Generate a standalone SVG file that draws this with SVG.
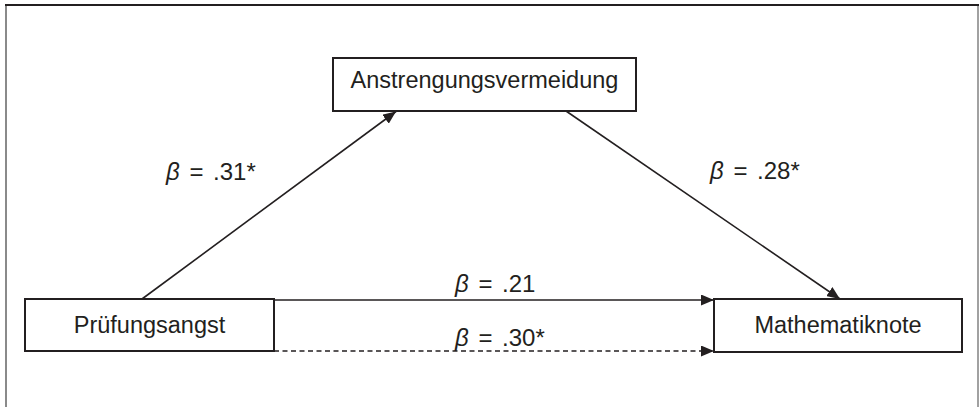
<svg xmlns="http://www.w3.org/2000/svg" width="980" height="407" viewBox="0 0 980 407">
<style>
.box{fill:#fff;stroke:#231f20;stroke-width:2}
.node{font-family:"Liberation Sans",Arial,sans-serif;font-size:23.5px;fill:#231f20;text-anchor:middle}
.lbl{font-family:"Liberation Sans",Arial,sans-serif;font-size:24px;word-spacing:3px;fill:#231f20}
.edge{stroke:#231f20;stroke-width:1.6;fill:none}
</style>
<defs>
<marker id="ah" viewBox="0 0 13 11" refX="13" refY="5.5" markerWidth="13" markerHeight="11" markerUnits="userSpaceOnUse" orient="auto">
<path d="M0,0 L13,5.5 L0,11 Z" fill="#231f20"/>
</marker>
</defs>
<rect width="980" height="407" fill="#fff"/>
<g id="frame">
<line x1="6" y1="5" x2="6" y2="407" stroke="#6d6d6d" stroke-width="1.6"/>
<line x1="978" y1="5" x2="978" y2="407" stroke="#8a8a8a" stroke-width="1.6"/>
<line x1="5" y1="5" x2="979" y2="5" stroke="#231f20" stroke-width="2"/>
</g>
<g id="connectors">
<line class="edge" x1="142" y1="299" x2="396" y2="111.5" marker-end="url(#ah)"/>
<line class="edge" x1="566" y1="111" x2="840" y2="299" marker-end="url(#ah)"/>
<line class="edge" x1="274" y1="300" x2="714" y2="300" marker-end="url(#ah)"/>
<line class="edge" x1="274" y1="351" x2="714" y2="351" stroke-dasharray="5 3.5" marker-end="url(#ah)"/>
<text class="lbl" x="166" y="180"><tspan font-style="italic">β</tspan> = .31*</text>
<text class="lbl" x="710" y="179"><tspan font-style="italic">β</tspan> = .28*</text>
<text class="lbl" x="455" y="292"><tspan font-style="italic">β</tspan> = .21</text>
<text class="lbl" x="455" y="346"><tspan font-style="italic">β</tspan> = .30*</text>
</g>
<g id="anstrengungsvermeidung">
<rect class="box" x="333" y="58" width="303" height="53"/>
<text class="node" x="484.5" y="88">Anstrengungsvermeidung</text>
</g>
<g id="pruefungsangst">
<rect class="box" x="25" y="299" width="249" height="52"/>
<text class="node" x="149.5" y="333">Prüfungsangst</text>
</g>
<g id="mathematiknote">
<rect class="box" x="714" y="299" width="248" height="53"/>
<text class="node" x="838" y="333">Mathematiknote</text>
</g>
</svg>
